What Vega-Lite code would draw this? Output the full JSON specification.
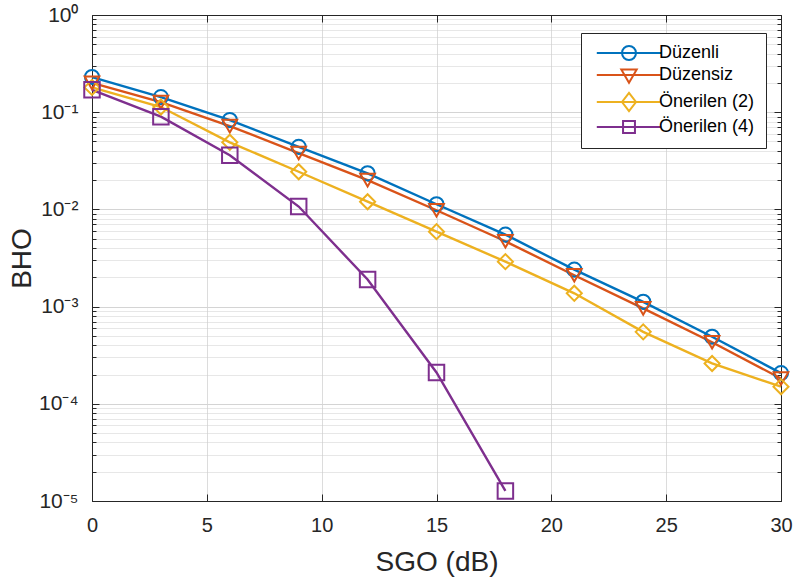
{
  "$schema": "https://vega.github.io/schema/vega-lite/v6.json",
  "width": 689,
  "height": 486,
  "autosize": {"type": "none"},
  "padding": {"left": 92, "top": 15, "right": 13, "bottom": 80},
  "background": "white",
  "config": {
    "view": {"stroke": "#262626", "strokeWidth": 1},
    "font": "Liberation Sans",
    "axis": {
      "domainColor": "#262626",
      "tickColor": "#262626",
      "labelColor": "#262626",
      "titleColor": "#262626",
      "labelFont": "Liberation Sans",
      "titleFont": "Liberation Sans",
      "labelFontSize": 20,
      "titleFontSize": 28,
      "titleFontWeight": "normal",
      "domainWidth": 1,
      "tickWidth": 1
    }
  },
  "data": {
    "values": [
      {"snr": 0, "ber": 0.23, "scheme": "Düzenli"},
      {"snr": 3, "ber": 0.143, "scheme": "Düzenli"},
      {"snr": 6, "ber": 0.083, "scheme": "Düzenli"},
      {"snr": 9, "ber": 0.044, "scheme": "Düzenli"},
      {"snr": 12, "ber": 0.0235, "scheme": "Düzenli"},
      {"snr": 15, "ber": 0.0113, "scheme": "Düzenli"},
      {"snr": 18, "ber": 0.0055, "scheme": "Düzenli"},
      {"snr": 21, "ber": 0.0024, "scheme": "Düzenli"},
      {"snr": 24, "ber": 0.00112, "scheme": "Düzenli"},
      {"snr": 27, "ber": 0.00049, "scheme": "Düzenli"},
      {"snr": 30, "ber": 0.000207, "scheme": "Düzenli"},
      {"snr": 0, "ber": 0.2, "scheme": "Düzensiz"},
      {"snr": 3, "ber": 0.127, "scheme": "Düzensiz"},
      {"snr": 6, "ber": 0.072, "scheme": "Düzensiz"},
      {"snr": 9, "ber": 0.038, "scheme": "Düzensiz"},
      {"snr": 12, "ber": 0.02, "scheme": "Düzensiz"},
      {"snr": 15, "ber": 0.0098, "scheme": "Düzensiz"},
      {"snr": 18, "ber": 0.0047, "scheme": "Düzensiz"},
      {"snr": 21, "ber": 0.0021, "scheme": "Düzensiz"},
      {"snr": 24, "ber": 0.00096, "scheme": "Düzensiz"},
      {"snr": 27, "ber": 0.00043, "scheme": "Düzensiz"},
      {"snr": 30, "ber": 0.000182, "scheme": "Düzensiz"},
      {"snr": 0, "ber": 0.18, "scheme": "Önerilen (2)"},
      {"snr": 3, "ber": 0.113, "scheme": "Önerilen (2)"},
      {"snr": 6, "ber": 0.049, "scheme": "Önerilen (2)"},
      {"snr": 9, "ber": 0.0244, "scheme": "Önerilen (2)"},
      {"snr": 12, "ber": 0.012, "scheme": "Önerilen (2)"},
      {"snr": 15, "ber": 0.0059, "scheme": "Önerilen (2)"},
      {"snr": 18, "ber": 0.0029, "scheme": "Önerilen (2)"},
      {"snr": 21, "ber": 0.00137, "scheme": "Önerilen (2)"},
      {"snr": 24, "ber": 0.00055, "scheme": "Önerilen (2)"},
      {"snr": 27, "ber": 0.00026, "scheme": "Önerilen (2)"},
      {"snr": 30, "ber": 0.00015, "scheme": "Önerilen (2)"},
      {"snr": 0, "ber": 0.17, "scheme": "Önerilen (4)"},
      {"snr": 3, "ber": 0.09, "scheme": "Önerilen (4)"},
      {"snr": 6, "ber": 0.036, "scheme": "Önerilen (4)"},
      {"snr": 9, "ber": 0.0107, "scheme": "Önerilen (4)"},
      {"snr": 12, "ber": 0.0019, "scheme": "Önerilen (4)"},
      {"snr": 15, "ber": 0.00021, "scheme": "Önerilen (4)"},
      {"snr": 18, "ber": 0.0000127, "scheme": "Önerilen (4)"}
    ]
  },
  "layer": [
    {
      "mark": {"type": "line", "strokeWidth": 2.4},
      "encoding": {
        "x": {
          "field": "snr", "type": "quantitative",
          "scale": {"domain": [0, 30], "nice": false, "zero": false},
          "axis": {
            "orient": "bottom",
            "values": [0, 5, 10, 15, 20, 25, 30],
            "title": "SGO (dB)",
            "grid": true,
            "gridColor": "#dcdcdc",
            "gridWidth": 1,
            "tickSize": -7,
            "labelPadding": 21,
            "labelFlush": false,
            "titleX": 344.5,
            "titleY": 61,
            "titleAnchor": "middle",
            "titleBaseline": "middle",
            "titleAlign": "center"
          }
        },
        "y": {
          "field": "ber", "type": "quantitative",
          "scale": {"type": "log", "domain": [0.00001, 1], "nice": false},
          "axis": {
            "orient": "left",
            "values": [0.00001, 0.00002, 0.00003, 0.00004, 0.00005, 0.00006, 0.00007, 0.00008, 0.00009, 0.0001, 0.0002, 0.0003, 0.0004, 0.0005, 0.0006, 0.0007, 0.0008, 0.0009, 0.001, 0.002, 0.003, 0.004, 0.005, 0.006, 0.007, 0.008, 0.009, 0.01, 0.02, 0.03, 0.04, 0.05, 0.06, 0.07, 0.08, 0.09, 0.1, 0.2, 0.3, 0.4, 0.5, 0.6, 0.7, 0.8, 0.9, 1],
            "labelExpr": "abs(log(datum.value)/LN10 - round(log(datum.value)/LN10)) > 0.000001 ? '' : '10' + replace(replace(replace(replace(replace(replace(replace('' + round(log(datum.value)/LN10), '-', '⁻'), '0', '⁰'), '1', '¹'), '2', '²'), '3', '³'), '4', '⁴'), '5', '⁵')",
            "title": "BHO",
            "grid": true,
            "gridColor": {"condition": {"test": "abs(log(datum.value)/LN10 - round(log(datum.value)/LN10)) < 0.000001", "value": "#d4d4d4"}, "value": "#cfcfcf"},
            "gridDash": {"condition": {"test": "abs(log(datum.value)/LN10 - round(log(datum.value)/LN10)) < 0.000001", "value": []}, "value": [1, 1]},
            "tickSize": {"condition": {"test": "abs(log(datum.value)/LN10 - round(log(datum.value)/LN10)) < 0.000001", "value": -7}, "value": -4},
            "labelPadding": 21,
            "labelFontSize": 21,
            "labelFlush": false,
            "labelOverlap": false,
            "titleX": -70,
            "titleY": 243,
            "titleAngle": -90,
            "titleAlign": "center",
            "titleBaseline": "middle"
          }
        },
        "color": {
          "field": "scheme", "type": "nominal",
          "scale": {"domain": ["Düzenli", "Düzensiz", "Önerilen (2)", "Önerilen (4)"], "range": ["#0072BD", "#D95319", "#EDB120", "#7E2F8E"]},
          "legend": null
        }
      }
    },
    {
      "mark": {"type": "point", "filled": false, "strokeWidth": 2, "opacity": 1},
      "encoding": {
        "x": {
          "field": "snr", "type": "quantitative",
          "axis": {"orient": "top", "values": [0, 5, 10, 15, 20, 25, 30], "labels": false, "title": null, "grid": false, "tickSize": -7}
        },
        "y": {
          "field": "ber", "type": "quantitative",
          "axis": {
            "orient": "right",
            "values": [0.00001, 0.00002, 0.00003, 0.00004, 0.00005, 0.00006, 0.00007, 0.00008, 0.00009, 0.0001, 0.0002, 0.0003, 0.0004, 0.0005, 0.0006, 0.0007, 0.0008, 0.0009, 0.001, 0.002, 0.003, 0.004, 0.005, 0.006, 0.007, 0.008, 0.009, 0.01, 0.02, 0.03, 0.04, 0.05, 0.06, 0.07, 0.08, 0.09, 0.1, 0.2, 0.3, 0.4, 0.5, 0.6, 0.7, 0.8, 0.9, 1],
            "labels": false, "title": null, "grid": false,
            "tickSize": {"condition": {"test": "abs(log(datum.value)/LN10 - round(log(datum.value)/LN10)) < 0.000001", "value": -7}, "value": -4}
          }
        },
        "color": {
          "field": "scheme", "type": "nominal",
          "scale": {"domain": ["Düzenli", "Düzensiz", "Önerilen (2)", "Önerilen (4)"], "range": ["#0072BD", "#D95319", "#EDB120", "#7E2F8E"]},
          "legend": null
        },
        "shape": {
          "field": "scheme", "type": "nominal",
          "scale": {"domain": ["Düzenli", "Düzensiz", "Önerilen (2)", "Önerilen (4)"], "range": ["circle", "triangle-down", "diamond", "square"]},
          "legend": null
        },
        "size": {
          "field": "scheme", "type": "nominal",
          "scale": {"domain": ["Düzenli", "Düzensiz", "Önerilen (2)", "Önerilen (4)"], "range": [200, 240, 300, 150]},
          "legend": null
        }
      }
    },
    {
      "mark": {"type": "point", "filled": false, "strokeWidth": 2, "opacity": 0, "size": 196},
      "encoding": {
        "x": {"field": "snr", "type": "quantitative", "axis": null},
        "y": {"field": "ber", "type": "quantitative", "axis": null},
        "color": {
          "field": "scheme", "type": "nominal",
          "scale": {"domain": ["Düzenli", "Düzensiz", "Önerilen (2)", "Önerilen (4)"], "range": ["#0072BD", "#D95319", "#EDB120", "#7E2F8E"]},
          "legend": {
            "title": null, "orient": "none", "legendX": 489, "legendY": 18,
            "symbolSize": 196, "symbolStrokeWidth": 2, "symbolOpacity": 1, "symbolFillColor": "transparent",
            "symbolOffset": 28, "labelOffset": 21, "labelFontSize": 18, "labelFont": "Liberation Sans", "labelColor": "#000000",
            "padding": 11, "rowPadding": 1, "strokeColor": "#262626", "fillColor": "white", "cornerRadius": 0
          }
        },
        "shape": {
          "field": "scheme", "type": "nominal",
          "scale": {"domain": ["Düzenli", "Düzensiz", "Önerilen (2)", "Önerilen (4)"], "range": [
            "M-4.6,0H4.6M1,0A1,1,0,1,1,-1,0A1,1,0,1,1,1,0",
            "M-4.6,0H4.6M-1.1,-0.8L1.1,-0.8L0,1.1Z",
            "M-4.6,0H4.6M0,-1.3L1,0L0,1.3L-1,0Z",
            "M-4.6,0H4.6M-0.85,-0.85H0.85V0.85H-0.85Z"
          ]},
          "legend": {
            "title": null, "orient": "none", "legendX": 489, "legendY": 18,
            "symbolSize": 196, "symbolStrokeWidth": 2, "symbolOpacity": 1, "symbolFillColor": "transparent",
            "symbolOffset": 28, "labelOffset": 21, "labelFontSize": 18, "labelFont": "Liberation Sans", "labelColor": "#000000",
            "padding": 11, "rowPadding": 1, "strokeColor": "#262626", "fillColor": "white", "cornerRadius": 0
          }
        }
      }
    }
  ],
  "resolve": {
    "scale": {"color": "independent", "shape": "independent", "size": "independent"},
    "axis": {"x": "independent", "y": "independent"}
  }
}
